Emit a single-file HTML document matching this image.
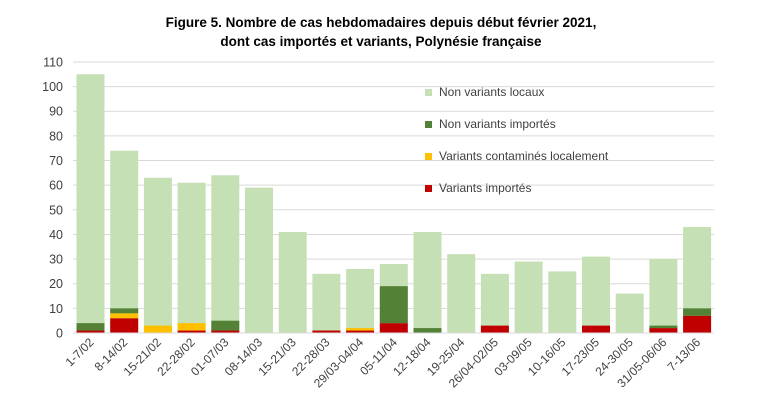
<!DOCTYPE html><html><head><meta charset="utf-8"><style>body{margin:0;background:#fff}svg{display:block;font-family:"Liberation Sans",sans-serif}</style></head><body>
<svg width="763" height="420" viewBox="0 0 763 420" id="c"></svg>
<script>
const s=document.getElementById('c');let h='';
h+='<text x="381" y="27" text-anchor="middle" font-size="13.5" font-weight="bold" fill="#000">Figure 5. Nombre de cas hebdomadaires depuis début février 2021,</text>';
h+='<text x="381" y="46" text-anchor="middle" font-size="13.5" font-weight="bold" fill="#000">dont cas importés et variants, Polynésie française</text>';
const y=v=>333-v*2.464;
for(let v=0;v<=110;v+=10){h+=`<line x1="73" x2="714" y1="${y(v)}" y2="${y(v)}" stroke="#d9d9d9" stroke-width="1"/>`;h+=`<text x="63" y="${y(v)+4.5}" text-anchor="end" font-size="12.5" fill="#404040">${v}</text>`;}
const d=[[1,0,3,105],[6,2,2,74],[0,3,0,63],[1,3,0,61],[1,0,4,64],[0,0,0,59],[0,0,0,41],[1,0,0,24],[1,1,0,26],[4,0,15,28],[0,0,2,41],[0,0,0,32],[3,0,0,24],[0,0,0,29],[0,0,0,25],[3,0,0,31],[0,0,0,16],[2,0,1,30],[7,0,3,43]];
const L=['1-7/02','8-14/02','15-21/02','22-28/02','01-07/03','08-14/03','15-21/03','22-28/03','29/03-04/04','05-11/04','12-18/04','19-25/04','26/04-02/05','03-09/05','10-16/05','17-23/05','24-30/05','31/05-06/06','7-13/06'];
const col=['#c00000','#ffc000','#538135'];
d.forEach((b,i)=>{const cx=90.5+i*33.7,x=cx-14;let acc=0;
h+=`<rect x="${x}" y="${y(b[3])}" width="28" height="${b[3]*2.464}" fill="#c5e0b4"/>`;
for(let k=0;k<3;k++){if(b[k]){h+=`<rect x="${x}" y="${y(acc+b[k])}" width="28" height="${b[k]*2.464}" fill="${col[k]}"/>`;acc+=b[k];}}
h+=`<text transform="translate(${cx+4},${343}) rotate(-45)" text-anchor="end" font-size="12" fill="#404040">${L[i]}</text>`;});
h+=`<line x1="73" x2="714" y1="333" y2="333" stroke="#d9d9d9"/>`;
const lg=[['#c5e0b4','Non variants locaux'],['#538135','Non variants importés'],['#ffc000','Variants contaminés localement'],['#c00000','Variants importés']];
lg.forEach((l,i)=>{const yy=93+i*32;h+=`<rect x="425" y="${yy-4}" width="7" height="7" fill="${l[0]}"/><text x="439" y="${yy+3}" font-size="12" fill="#404040">${l[1]}</text>`;});
s.innerHTML=h;
</script></body></html>
